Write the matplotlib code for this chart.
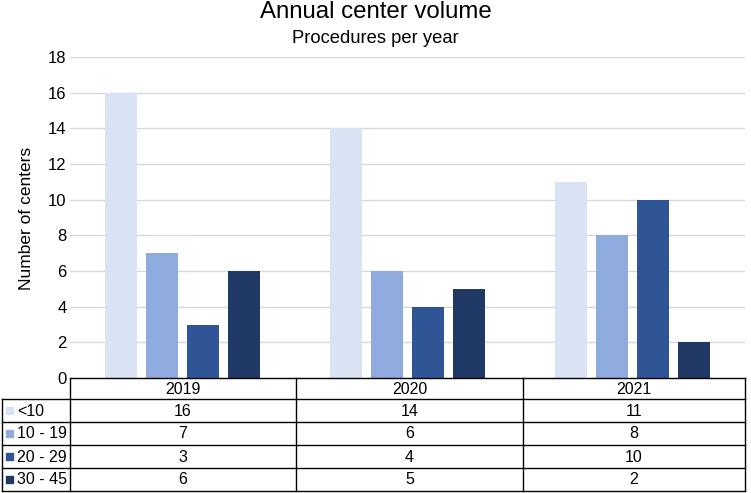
import matplotlib
matplotlib.use("Agg")
import matplotlib.pyplot as plt
import numpy as np

plt.rcParams['font.family'] = ['Liberation Sans', 'DejaVu Sans']

years = ["2019", "2020", "2021"]
series_names = ["<10", "10 - 19", "20 - 29", "30 - 45"]
values = {
    "<10": [16, 14, 11],
    "10 - 19": [7, 6, 8],
    "20 - 29": [3, 4, 10],
    "30 - 45": [6, 5, 2],
}
colors = ["#DAE3F3", "#8FAADC", "#2F5597", "#203864"]
yticks = [0, 2, 4, 6, 8, 10, 12, 14, 16, 18]

W, H = 751, 493
fig = plt.figure(figsize=(W / 100, H / 100), dpi=100)

ax_left, ax_right, ax_bot, ax_top = 70, 745, 378, 57
ax = fig.add_axes([ax_left / W, (H - ax_bot) / H, (ax_right - ax_left) / W, (ax_bot - ax_top) / H])

x = np.arange(len(years))
step, width = 0.182, 0.142
for j, name in enumerate(series_names):
    ax.bar(x + (j - 1.5) * step, values[name], width, color=colors[j], zorder=3)

ax.set_xlim(-0.5, len(years) - 0.5)
ax.set_ylim(0, 18)
ax.set_yticks(yticks)
ax.set_yticklabels([str(t) for t in yticks], fontsize=12)
ax.set_xticks([])
ax.grid(axis='y', color='#D9D9D9', linewidth=1, zorder=0)
for s in ax.spines.values():
    s.set_visible(False)
ax.tick_params(axis='y', length=0, pad=2.5)

fig.text(27 / W, 1 - 218 / H, "Number of centers", rotation=90, ha='center', va='center', fontsize=12.5)
fig.text(0.5, 1 - 18 / H, "Annual center volume", ha='center', va='baseline', fontsize=17.3)
fig.text(0.5, 1 - 43 / H, "Procedures per year", ha='center', va='baseline', fontsize=13.2)

# table drawn in pixel coordinates
tax = fig.add_axes([0, 0, 1, 1])
tax.set_xlim(0, W)
tax.set_ylim(H, 0)
tax.axis('off')

row_y = [378, 399, 422, 445, 468, 491]
col_x = [ax_left, 296, 523, ax_right]
lc = 'black'
lw = 1.0
tax.plot([col_x[0], col_x[-1]], [row_y[0], row_y[0]], color=lc, lw=lw)
for yy in row_y[1:]:
    tax.plot([1.5, col_x[-1]], [yy, yy], color=lc, lw=lw)
for xx in col_x:
    tax.plot([xx, xx], [row_y[0], row_y[-1]], color=lc, lw=lw)
tax.plot([1.5, 1.5], [row_y[1], row_y[-1]], color=lc, lw=lw)

fs = 11.5
for i, yr in enumerate(years):
    cx = (col_x[i] + col_x[i + 1]) / 2
    tax.text(cx, (row_y[0] + row_y[1]) / 2 + 0.5, yr, ha='center', va='center', fontsize=fs)
    for j, name in enumerate(series_names):
        cy = (row_y[j + 1] + row_y[j + 2]) / 2 + 0.5
        tax.text(cx, cy, str(values[name][i]), ha='center', va='center', fontsize=fs)

for j, name in enumerate(series_names):
    cy = (row_y[j + 1] + row_y[j + 2]) / 2
    tax.add_patch(plt.Rectangle((6, cy - 3.5), 7, 7, color=colors[j]))
    tax.text(17, cy + 0.5, name, ha='left', va='center', fontsize=fs)

fig.savefig("out.png", dpi=100)
